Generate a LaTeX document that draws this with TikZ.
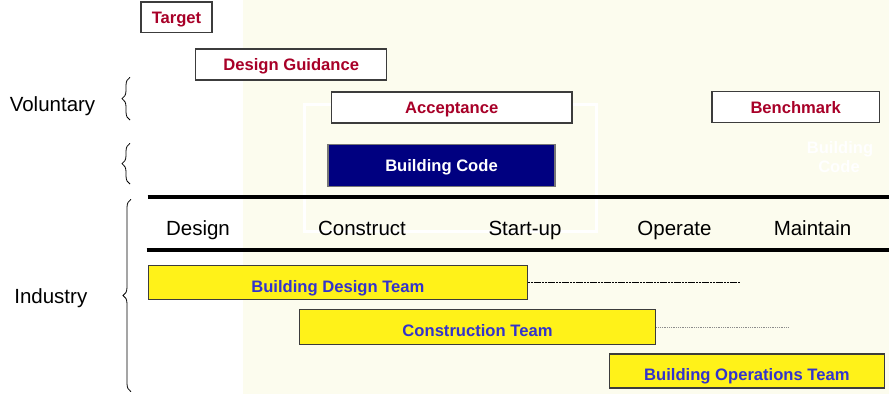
\documentclass[tikz,border=0pt]{standalone}
\usepackage{fontspec}
\setmainfont{Liberation Sans}
\usetikzlibrary{decorations.pathreplacing}
\definecolor{bgyel}{RGB}{252,252,238}
\definecolor{lblred}{RGB}{168,0,40}
\definecolor{lblblue}{RGB}{51,51,204}
\definecolor{teamyel}{RGB}{255,242,25}
\definecolor{navybox}{RGB}{0,0,128}
\definecolor{edgegray}{RGB}{60,60,60}
\begin{document}
\begin{tikzpicture}[x=1pt,y=-1pt,
  bigtxt/.style={font=\fontsize{20.5}{24}\selectfont, text=black, inner sep=0pt, anchor=base},
  boldtxt/.style={font=\fontsize{16.6}{20}\selectfont\bfseries, inner sep=0pt},
  wbox/.style={boldtxt, draw=edgegray, line width=1.4pt, fill=white, text=lblred, text height=11.9pt, text depth=0pt},
  ybox/.style={boldtxt, draw=edgegray, line width=1.4pt, fill=teamyel, text=lblblue, text height=19.3pt, text depth=0pt},
  nbox/.style={boldtxt, draw=edgegray!70, line width=1.4pt, fill=navybox, text=white, text height=11.9pt, text depth=0pt},
  bracestyle/.style={decorate, decoration={brace, amplitude=8pt}, line width=0.8pt},
  phaseline/.style={line width=3.6pt, black}
]
\useasboundingbox (0,0) rectangle (889,394);
\fill[white] (0,0) rectangle (243,394);
\fill[bgyel] (243,0) rectangle (889,394);

% faint white frame
\draw[white, line width=3pt] (304.5,104) rectangle (596.5,231);

% faint white text
\node[boldtxt, text=white, anchor=base] (fbc1) at (840,153.6) {Building};
\node[boldtxt, text=white, anchor=base] (fbc2) at (839,172) {Code};

% voluntary boxes
\node[wbox, minimum width=71pt, minimum height=30.6pt] (target) at (176.5,17.3) {Target};
\node[wbox, minimum width=190.9pt, minimum height=31pt] (dguid) at (291.2,64.5) {Design Guidance};
\node[wbox, minimum width=240.6pt, minimum height=30.9pt] (accept) at (451.7,107.5) {Acceptance};
\node[wbox, minimum width=167.3pt, minimum height=30.9pt] (bench) at (795.7,107.2) {Benchmark};
\node[nbox, minimum width=227pt, minimum height=41.9pt] (bcode) at (441.5,165.7) {Building Code};

% phase lines
\draw[phaseline] (147.7,196.7) -- (889,196.7);
\draw[phaseline] (146.7,250) -- (889,250);

% phase labels
\node[bigtxt] (pdesign) at (198,235) {Design};
\node[bigtxt] (pconstruct) at (362,235) {Construct};
\node[bigtxt] (pstart) at (525,235) {Start-up};
\node[bigtxt] (poperate) at (674.5,235) {Operate};
\node[bigtxt] (pmaintain) at (812.5,235) {Maintain};

% side labels
\node[bigtxt] (voluntary) at (52.5,111) {Voluntary};
\node[bigtxt] (industry) at (50.8,303) {Industry};

% braces
\draw[bracestyle] (130,120) -- (130,77.3);
\draw[bracestyle] (130,184) -- (130,143.3);
\draw[bracestyle] (131,391.7) -- (131,199.3);

% team boxes
\node[ybox, minimum width=378.9pt, minimum height=33.6pt] (bdt) at (337.9,282.5) {Building Design Team};
\node[ybox, minimum width=356.2pt, minimum height=34.6pt] (ct) at (477.5,327) {Construction Team};
\node[ybox, minimum width=274.9pt, minimum height=34pt] (bot) at (746.9,371) {Building Operations Team};

% dotted continuation lines
\coordinate (d1end) at (740.7,282.5);
\coordinate (d2end) at (789.3,327);
\draw[black, line width=1.7pt, dash pattern=on 2.2pt off 0.6pt] (bdt.east) -- (d1end);
\draw[black!45, line width=1pt, dash pattern=on 1pt off 0.8pt] (ct.east) -- (d2end);
\end{tikzpicture}
\end{document}
